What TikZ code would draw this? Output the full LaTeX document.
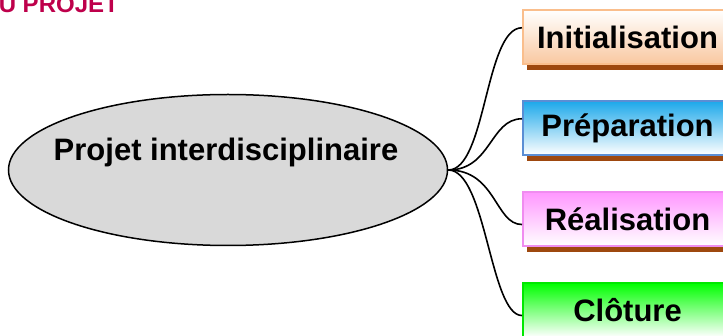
\documentclass[tikz,border=0pt]{standalone}
\usepackage{fontspec}
\setmainfont{Liberation Sans}
\usetikzlibrary{shapes.geometric, shadows}

\definecolor{titlered}{RGB}{190,0,75}
\definecolor{ovalgray}{RGB}{217,217,217}
\definecolor{shadowbrown}{RGB}{158,72,14}
\definecolor{initedge}{RGB}{250,190,140}
\definecolor{initfill}{RGB}{249,200,160}
\definecolor{prepedge}{RGB}{90,142,212}
\definecolor{prepfill}{RGB}{28,168,234}
\definecolor{realedge}{RGB}{240,140,240}
\definecolor{realfill}{RGB}{255,150,255}
\definecolor{clotedge}{RGB}{0,232,0}
\definecolor{clotfill}{RGB}{0,255,0}

\begin{document}
\begin{tikzpicture}[x=1pt, y=-1pt,
    phase/.style={rectangle, line width=2pt, minimum width=209pt, minimum height=54pt,
        anchor=west, inner sep=0pt, font=\fontsize{31}{37}\selectfont\bfseries,
        general shadow={fill=shadowbrown, shadow xshift=4pt, shadow yshift=-6pt}},
    branch/.style={line width=1.6pt}]

        \useasboundingbox (0, 0) rectangle (723, 336);

        \node (titre) at (119, 12.5) [anchor=base east, text=titlered, inner sep=0pt,
            font=\fontsize{24}{28}\selectfont\bfseries] {DU PROJET};

        \node (proj) at (228, 170) [ellipse, draw, fill=ovalgray, line width=1.5pt,
            minimum width=439pt, minimum height=151pt, inner sep=0pt] {};
        \node (projtext) at (226, 152) [font=\fontsize{31}{37}\selectfont\bfseries] {Projet interdisciplinaire};

        \node (init) at (522, 37) [phase, draw=initedge, top color=white, bottom color=initfill] {Initialisation};
        \node (prep) at (522, 128) [phase, draw=prepedge, top color=prepfill, bottom color=white] {Préparation};
        \node (real) at (522, 219) [phase, draw=realedge, top color=realfill, bottom color=white] {Réalisation};
        \node (clot) at (522, 310) [phase, draw=clotedge, top color=clotfill, bottom color=white] {Clôture};

        \draw[branch] (proj.east) .. controls +(38, 0) and +(-37, 0) .. (init.175);
        \draw[branch] (proj.east) .. controls +(43, 0) and +(-32, 0) .. (prep.175);
        \draw[branch] (proj.east) .. controls +(48, 0) and +(-27, 0) .. (real.183);
        \draw[branch] (proj.east) .. controls +(38, 0) and +(-32, 0) .. (clot.183);

    \end{tikzpicture}
\end{document}
